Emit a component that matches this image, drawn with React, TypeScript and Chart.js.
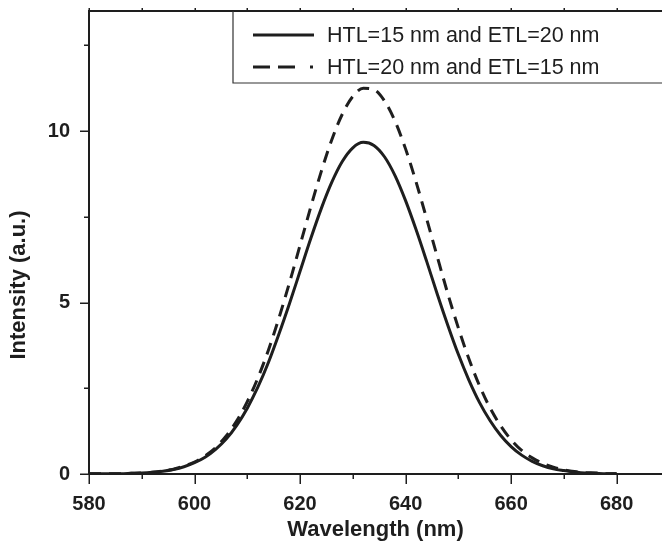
import React, { useEffect, useRef } from "react";
import { Chart, registerables } from "chart.js";

Chart.register(...registerables);

const wavelengths = [
  580, 582, 584, 586, 588, 590, 592, 594, 596, 598, 600, 602, 604, 606, 608, 610, 612, 614, 616, 618,
  620, 622, 624, 626, 628, 630, 632, 634, 636, 638, 640, 642, 644, 646, 648, 650, 652, 654, 656, 658,
  660, 662, 664, 666, 668, 670, 672, 674, 676, 678, 680,
];

const htl15etl20 = [
  0.01, 0.01, 0.01, 0.01, 0.02, 0.03, 0.05, 0.08, 0.13, 0.21, 0.33, 0.49, 0.72, 1.02, 1.42, 1.92, 2.53, 3.25, 4.08, 4.97,
  5.91, 6.85, 7.73, 8.5, 9.11, 9.51, 9.67, 9.58, 9.25, 8.7, 7.97, 7.12, 6.2, 5.25, 4.34, 3.49, 2.74, 2.09, 1.56, 1.13,
  0.8, 0.55, 0.37, 0.24, 0.15, 0.1, 0.06, 0.03, 0.02, 0.01, 0.01,
];

const htl20etl15 = [
  0.01, 0.01, 0.01, 0.01, 0.02, 0.03, 0.05, 0.09, 0.14, 0.23, 0.35, 0.53, 0.77, 1.11, 1.55, 2.11, 2.8, 3.61, 4.55, 5.58,
  6.67, 7.77, 8.81, 9.74, 10.49, 11.01, 11.25, 11.21, 10.88, 10.29, 9.48, 8.51, 7.44, 6.34, 5.26, 4.26, 3.36, 2.58, 1.93, 1.41,
  1.0, 0.69, 0.47, 0.31, 0.2, 0.12, 0.07, 0.04, 0.03, 0.01, 0.01,
];

const seriesLabels = ["HTL=15 nm and ETL=20 nm", "HTL=20 nm and ETL=15 nm"];
const xTickValues = [580, 590, 600, 610, 620, 630, 640, 650, 660, 670, 680];
const yTickValues = [0, 2.5, 5, 7.5, 10, 12.5];
const yTitle = "Intensity (a.u.)";

const INK = "#1e1e1e";
const FONT = "'Liberation Sans', Arial, Helvetica, sans-serif";

const framePlugin = {
  id: "framePlugin",
  afterDraw(chart: any) {
    const ctx = chart.ctx;
    const area = chart.chartArea;
    const xs = chart.scales.x;
    const ys = chart.scales.y;
    ctx.save();
    ctx.strokeStyle = INK;
    ctx.lineCap = "butt";

    // top border
    ctx.lineWidth = 2;
    ctx.beginPath();
    ctx.moveTo(area.left - 1, area.top);
    ctx.lineTo(area.right + 2, area.top);
    ctx.stroke();

    // x ticks (bottom outward, top small)
    ctx.lineWidth = 1.5;
    xTickValues.forEach((v) => {
      const px = Math.round(xs.getPixelForValue(v)) + 0.25;
      const major = v % 20 === 0;
      const len = major ? 10 : 5;
      ctx.beginPath();
      ctx.moveTo(px, area.bottom);
      ctx.lineTo(px, area.bottom + len);
      ctx.stroke();
      ctx.beginPath();
      ctx.moveTo(px, area.top);
      ctx.lineTo(px, area.top - 3);
      ctx.stroke();
    });

    // y ticks (left outward)
    yTickValues.forEach((v) => {
      const py = Math.round(ys.getPixelForValue(v)) + 0.25;
      const major = v % 5 === 0;
      const len = major ? 9 : 5;
      ctx.beginPath();
      ctx.moveTo(area.left, py);
      ctx.lineTo(area.left - len, py);
      ctx.stroke();
    });

    // y title
    ctx.save();
    ctx.translate(19, 285);
    ctx.rotate(-Math.PI / 2);
    ctx.fillStyle = INK;
    ctx.font = `bold 22px ${FONT}`;
    ctx.textAlign = "center";
    ctx.textBaseline = "middle";
    ctx.fillText(yTitle, 0, 0);
    ctx.restore();

    // legend
    const boxLeft = 233;
    const boxBottom = 83;
    ctx.fillStyle = "#ffffff";
    ctx.fillRect(boxLeft, area.top + 1, chart.width - boxLeft + 2, boxBottom - area.top - 1);
    ctx.lineWidth = 1.2;
    ctx.strokeStyle = "#333333";
    ctx.beginPath();
    ctx.moveTo(boxLeft, area.top);
    ctx.lineTo(boxLeft, boxBottom);
    ctx.lineTo(chart.width + 2, boxBottom);
    ctx.stroke();

    const rows = [35, 67];
    chart.data.datasets.forEach((ds: any, i: number) => {
      const y = rows[i];
      ctx.strokeStyle = INK;
      ctx.lineWidth = 3;
      if (i === 1) ctx.setLineDash([17, 8, 17, 15, 3, 100]);
      else ctx.setLineDash([]);
      ctx.beginPath();
      ctx.moveTo(253, y);
      ctx.lineTo(314, y);
      ctx.stroke();
      ctx.setLineDash([]);
      ctx.fillStyle = INK;
      ctx.font = `21.5px ${FONT}`;
      ctx.textBaseline = "middle";
      ctx.textAlign = "left";
      ctx.fillText(ds.label, 327, y + 1);
    });
    ctx.restore();
  },
};

export default function App() {
  const canvasRef = useRef<HTMLCanvasElement | null>(null);

  useEffect(() => {
    if (!canvasRef.current) return;
    const chart = new Chart(canvasRef.current, {
      type: "line",
      data: {
        labels: wavelengths,
        datasets: [
          {
            label: seriesLabels[0],
            data: wavelengths.map((w, i) => ({ x: w, y: htl15etl20[i] })),
            borderColor: INK,
            borderWidth: 3,
            pointRadius: 0,
            cubicInterpolationMode: "monotone",
            fill: false,
          },
          {
            label: seriesLabels[1],
            data: wavelengths.map((w, i) => ({ x: w, y: htl20etl15[i] })),
            borderColor: INK,
            borderWidth: 3,
            borderDash: [12, 8],
            pointRadius: 0,
            cubicInterpolationMode: "monotone",
            fill: false,
          },
        ],
      },
      options: {
        responsive: false,
        animation: false,
        devicePixelRatio: 1,
        layout: { padding: { top: 11, right: 0, left: 0, bottom: 0 } },
        plugins: {
          legend: { display: false },
          tooltip: { enabled: false },
        },
        scales: {
          x: {
            type: "linear",
            min: 580,
            max: 688.6,
            afterBuildTicks: (scale: any) => {
              scale.ticks = xTickValues.map((v) => ({ value: v }));
            },
            afterFit: (scale: any) => {
              scale.height = 69;
              scale.paddingLeft = 0;
              scale.paddingRight = 0;
            },
            grid: { display: false, drawTicks: false },
            border: { display: true, color: INK, width: 2 },
            ticks: {
              padding: 18,
              color: INK,
              maxRotation: 0,
              autoSkip: false,
              font: { family: FONT, size: 20, weight: "bold" },
              callback: (v: any) => (Number(v) % 20 === 0 ? String(v) : ""),
            },
            title: {
              display: true,
              text: "Wavelength (nm)",
              color: INK,
              font: { family: FONT, size: 22, weight: "bold" },
              padding: { top: 0, bottom: 0 },
            },
          },
          y: {
            type: "linear",
            min: 0,
            max: 13.5,
            afterBuildTicks: (scale: any) => {
              scale.ticks = yTickValues.map((v) => ({ value: v }));
            },
            afterFit: (scale: any) => {
              scale.width = 89;
              scale.paddingTop = 0;
              scale.paddingBottom = 0;
            },
            grid: { display: false, drawTicks: false },
            border: { display: true, color: INK, width: 2 },
            ticks: {
              padding: 19,
              color: INK,
              autoSkip: false,
              font: { family: FONT, size: 20, weight: "bold" },
              callback: (v: any) => (Number(v) % 5 === 0 ? String(v) : ""),
            },
            title: { display: false },
          },
        },
      },
      plugins: [framePlugin],
    });
    return () => chart.destroy();
  }, []);

  return (
    <div style={{ position: "absolute", left: 0, top: 0, width: 662, height: 543, background: "#fff" }}>
      <canvas ref={canvasRef} width={662} height={543} />
    </div>
  );
}
